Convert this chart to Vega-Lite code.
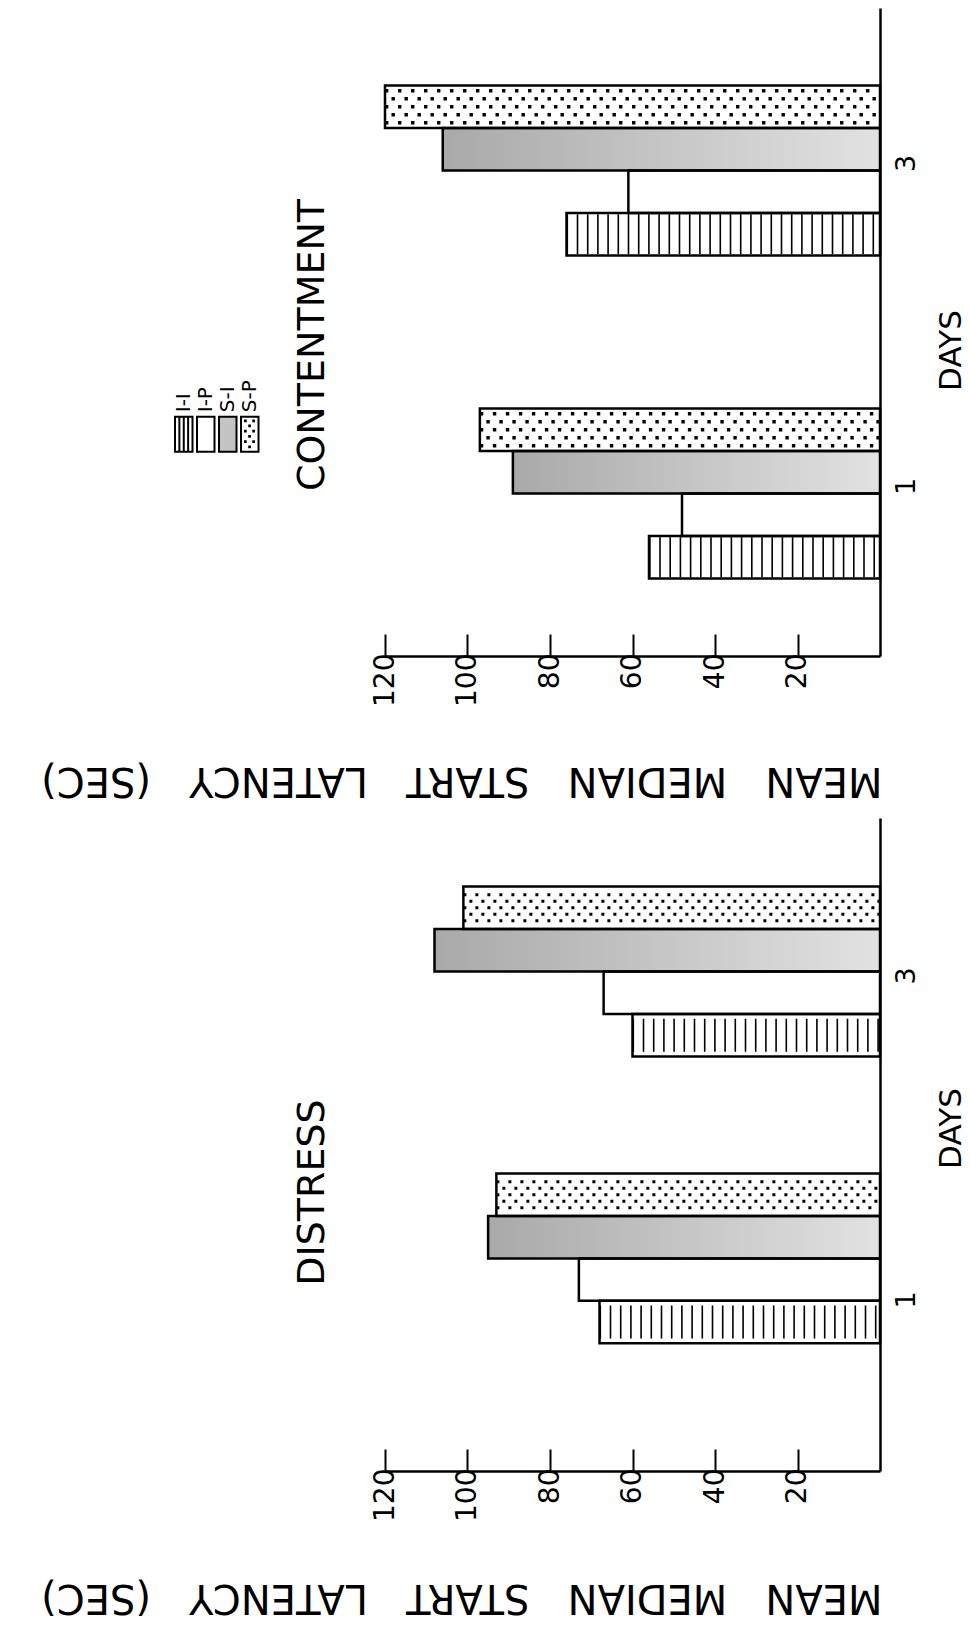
{
  "$schema": "https://vega.github.io/schema/vega-lite/v6.json",
  "autosize": {"type": "none"},
  "padding": {"left": 385, "top": 8, "right": 585, "bottom": 1630},
  "background": "white",
  "config": {
    "font": "DejaVu Sans",
    "view": {"stroke": null},
    "text": {"color": "black"}
  },
  "bounds": "flush",
  "spacing": 162,
  "data": {
    "values": [
      {"panel": "CONTENTMENT", "day": "1", "group": "I-I", "latency": 56},
      {"panel": "CONTENTMENT", "day": "1", "group": "I-P", "latency": 48},
      {"panel": "CONTENTMENT", "day": "1", "group": "S-I", "latency": 89},
      {"panel": "CONTENTMENT", "day": "1", "group": "S-P", "latency": 97},
      {"panel": "CONTENTMENT", "day": "3", "group": "I-I", "latency": 76},
      {"panel": "CONTENTMENT", "day": "3", "group": "I-P", "latency": 61},
      {"panel": "CONTENTMENT", "day": "3", "group": "S-I", "latency": 106},
      {"panel": "CONTENTMENT", "day": "3", "group": "S-P", "latency": 120},
      {"panel": "DISTRESS", "day": "1", "group": "I-I", "latency": 68},
      {"panel": "DISTRESS", "day": "1", "group": "I-P", "latency": 73},
      {"panel": "DISTRESS", "day": "1", "group": "S-I", "latency": 95},
      {"panel": "DISTRESS", "day": "1", "group": "S-P", "latency": 93},
      {"panel": "DISTRESS", "day": "3", "group": "I-I", "latency": 60},
      {"panel": "DISTRESS", "day": "3", "group": "I-P", "latency": 67},
      {"panel": "DISTRESS", "day": "3", "group": "S-I", "latency": 108},
      {"panel": "DISTRESS", "day": "3", "group": "S-P", "latency": 101}
    ]
  },
  "vconcat": [
    {
      "width": 495,
      "height": 648,
      "transform": [{"filter": "datum.panel === 'CONTENTMENT'"}],
      "layer": [
        {
          "mark": {"type": "bar", "stroke": null},
          "encoding": {
            "x": {
              "field": "latency", "type": "quantitative",
              "scale": {"domain": [0, 120], "reverse": true, "nice": false},
              "axis": {
                "values": [20, 40, 60, 80, 100, 120], "grid": false,
                "domain": true, "domainColor": "black", "domainWidth": 2.5,
                "ticks": true, "tickSize": -22, "tickWidth": 2, "tickColor": "black",
                "labelAngle": 270, "labelAlign": "right", "labelBaseline": "middle",
                "labelPadding": 19, "labelFontSize": 28, "labelColor": "black",
                "title": "MEAN \u00a0\u00a0MEDIAN \u00a0\u00a0START \u00a0\u00a0LATENCY \u00a0\u00a0(SEC)",
                "titleAngle": 180, "titleAlign": "left", "titleBaseline": "middle",
                "titleX": 497, "titleY": 123,
                "titleFontSize": 40, "titleFontWeight": "normal", "titleColor": "black"
              }
            },
            "y": {
              "field": "day", "type": "nominal",
              "scale": {"domain": ["3", "1"], "paddingInner": 0.474, "paddingOuter": 0.24, "align": 0.5},
              "axis": {
                "orient": "right", "domain": true, "domainColor": "black", "domainWidth": 2.5,
                "ticks": false, "labelAngle": 270, "labelAlign": "center", "labelBaseline": "top",
                "labelPadding": 13, "labelOffset": -7, "labelFontSize": 27, "labelColor": "black",
                "title": "DAYS", "titleAngle": 270, "titleAlign": "center", "titleBaseline": "middle",
                "titleX": 71, "titleY": 342,
                "titleFontSize": 31, "titleFontWeight": "normal", "titleColor": "black"
              }
            },
            "yOffset": {
              "field": "group", "type": "nominal",
              "scale": {"domain": ["S-P", "S-I", "I-P", "I-I"], "paddingInner": 0, "paddingOuter": 0}
            },
            "fill": {
              "field": "group", "type": "nominal",
              "scale": {"domain": ["I-I", "I-P", "S-I", "S-P"], "range": ["#ffffff", "#ffffff", "#c4c4c4", "#ffffff"]},
              "legend": {
                "orient": "none", "legendX": -210, "legendY": 426,
                "direction": "horizontal", "title": null,
                "symbolSize": 1225, "columnPadding": -10,
                "labelFontSize": 20, "labelColor": "black",
                "symbolStrokeColor": "black", "symbolStrokeWidth": 2,
                "encoding": {
                  "symbols": {
                    "shape": {"value": {"expr": "datum.value === 'I-I' ? 'M-0.5,-1H0.5V1H-0.5Z M-0.25,-1V1 M0,-1V1 M0.25,-1V1' : datum.value === 'S-P' ? 'M-0.5,-1H0.5V1H-0.5Z M-0.27,-0.78h0.04v0.04h-0.04Z M0.2,-0.78h0.04v0.04h-0.04Z M-0.03,-0.5h0.04v0.04h-0.04Z M-0.27,-0.2h0.04v0.04h-0.04Z M0.2,-0.2h0.04v0.04h-0.04Z M-0.03,0.1h0.04v0.04h-0.04Z M-0.27,0.4h0.04v0.04h-0.04Z M0.2,0.4h0.04v0.04h-0.04Z M-0.03,0.7h0.04v0.04h-0.04Z' : 'M-0.5,-1H0.5V1H-0.5Z'"}},
                    "stroke": {"value": "#000000"},
                    "strokeWidth": {"value": 2},
                    "opacity": {"value": 1},
                    "x": {"value": 8.75},
                    "y": {"value": 0}
                  },
                  "labels": {
                    "angle": {"value": 270},
                    "align": {"value": "left"},
                    "baseline": {"value": "middle"},
                    "x": {"value": 8.75},
                    "y": {"value": -22}
                  }
                }
              }
            }
          }
        },
        {
          "transform": [{"filter": "datum.group === 'S-I'"}],
          "mark": {
            "type": "bar",
            "fill": {"gradient": "linear", "x1": 0, "x2": 1, "y1": 0, "y2": 0,
                     "stops": [{"offset": 0, "color": "#a9a9a9"}, {"offset": 1, "color": "#e2e2e2"}]}
          },
          "encoding": {
            "x": {"field": "latency", "type": "quantitative"},
            "y": {"field": "day", "type": "nominal"},
            "yOffset": {"field": "group", "type": "nominal"}
          }
        },
        {
          "transform": [{"filter": "datum.group === 'I-I'"}],
          "mark": {"type": "rule", "color": "black", "strokeWidth": 40, "strokeDash": [1.6, 8.6]},
          "encoding": {
            "x": {"field": "latency", "type": "quantitative"},
            "x2": {"datum": 0},
            "y": {"field": "day", "type": "nominal"},
            "yOffset": {"field": "group", "type": "nominal"}
          }
        },
        {
          "transform": [{"filter": "datum.group === 'S-P'"}],
          "mark": {"type": "rule", "color": "black", "strokeWidth": 35.4, "strokeDash": [3.4, 9.6]},
          "encoding": {
            "x": {"field": "latency", "type": "quantitative"},
            "x2": {"datum": 0},
            "y": {"field": "day", "type": "nominal"},
            "yOffset": {"field": "group", "type": "nominal"}
          }
        },
        {
          "transform": [{"filter": "datum.group === 'S-P'"}],
          "mark": {"type": "rule", "color": "white", "strokeWidth": 28.6},
          "encoding": {
            "x": {"field": "latency", "type": "quantitative"},
            "x2": {"datum": 0},
            "y": {"field": "day", "type": "nominal"},
            "yOffset": {"field": "group", "type": "nominal"}
          }
        },
        {
          "transform": [{"filter": "datum.group === 'S-P'"}],
          "mark": {"type": "rule", "color": "black", "strokeWidth": 19.4, "strokeDash": [3.4, 9.6], "strokeDashOffset": 6.5},
          "encoding": {
            "x": {"field": "latency", "type": "quantitative"},
            "x2": {"datum": 0},
            "y": {"field": "day", "type": "nominal"},
            "yOffset": {"field": "group", "type": "nominal"}
          }
        },
        {
          "transform": [{"filter": "datum.group === 'S-P'"}],
          "mark": {"type": "rule", "color": "white", "strokeWidth": 12.6},
          "encoding": {
            "x": {"field": "latency", "type": "quantitative"},
            "x2": {"datum": 0},
            "y": {"field": "day", "type": "nominal"},
            "yOffset": {"field": "group", "type": "nominal"}
          }
        },
        {
          "transform": [{"filter": "datum.group === 'S-P'"}],
          "mark": {"type": "rule", "color": "black", "strokeWidth": 3.4, "strokeDash": [3.4, 9.6]},
          "encoding": {
            "x": {"field": "latency", "type": "quantitative"},
            "x2": {"datum": 0},
            "y": {"field": "day", "type": "nominal"},
            "yOffset": {"field": "group", "type": "nominal"}
          }
        },
        {
          "mark": {"type": "bar", "fill": "transparent", "stroke": "black", "strokeWidth": 2.5},
          "encoding": {
            "x": {"field": "latency", "type": "quantitative"},
            "y": {"field": "day", "type": "nominal"},
            "yOffset": {"field": "group", "type": "nominal"}
          }
        },
        {
          "transform": [{"aggregate": [], "groupby": ["panel"]}],
          "mark": {"type": "text", "angle": 270, "align": "center", "baseline": "middle", "fontSize": 38, "dx": -13, "dy": -72, "color": "black"},
          "encoding": {
            "x": {"datum": 120, "type": "quantitative"},
            "text": {"field": "panel"}
          }
        }
      ]
    },
    {
      "width": 495,
      "height": 653,
      "transform": [{"filter": "datum.panel === 'DISTRESS'"}],
      "layer": [
        {
          "mark": {"type": "bar", "fill": "#ffffff", "stroke": null},
          "encoding": {
            "x": {
              "field": "latency", "type": "quantitative",
              "scale": {"domain": [0, 120], "reverse": true, "nice": false},
              "axis": {
                "values": [20, 40, 60, 80, 100, 120], "grid": false,
                "domain": true, "domainColor": "black", "domainWidth": 2.5,
                "ticks": true, "tickSize": -22, "tickWidth": 2, "tickColor": "black",
                "labelAngle": 270, "labelAlign": "right", "labelBaseline": "middle",
                "labelPadding": 19, "labelFontSize": 28, "labelColor": "black",
                "title": "MEAN \u00a0\u00a0MEDIAN \u00a0\u00a0START \u00a0\u00a0LATENCY \u00a0\u00a0(SEC)",
                "titleAngle": 180, "titleAlign": "left", "titleBaseline": "middle",
                "titleX": 497, "titleY": 125,
                "titleFontSize": 40, "titleFontWeight": "normal", "titleColor": "black"
              }
            },
            "y": {
              "field": "day", "type": "nominal",
              "scale": {"domain": ["3", "1"], "paddingInner": 0.502, "paddingOuter": 0.389, "align": 0.307},
              "axis": {
                "orient": "right", "domain": true, "domainColor": "black", "domainWidth": 2.5,
                "ticks": false, "labelAngle": 270, "labelAlign": "center", "labelBaseline": "top",
                "labelPadding": 13,
                "labelOffset": {"condition": {"test": "datum.value === '1'", "value": 55}, "value": 18},
                "labelFontSize": 27, "labelColor": "black",
                "title": "DAYS", "titleAngle": 270, "titleAlign": "center", "titleBaseline": "middle",
                "titleX": 71, "titleY": 310,
                "titleFontSize": 31, "titleFontWeight": "normal", "titleColor": "black"
              }
            },
            "yOffset": {
              "field": "group", "type": "nominal",
              "scale": {"domain": ["S-P", "S-I", "I-P", "I-I"], "paddingInner": 0, "paddingOuter": 0}
            }
          }
        },
        {
          "transform": [{"filter": "datum.group === 'S-I'"}],
          "mark": {
            "type": "bar",
            "fill": {"gradient": "linear", "x1": 0, "x2": 1, "y1": 0, "y2": 0,
                     "stops": [{"offset": 0, "color": "#a9a9a9"}, {"offset": 1, "color": "#e2e2e2"}]}
          },
          "encoding": {
            "x": {"field": "latency", "type": "quantitative"},
            "y": {"field": "day", "type": "nominal"},
            "yOffset": {"field": "group", "type": "nominal"}
          }
        },
        {
          "transform": [{"filter": "datum.group === 'I-I'"}],
          "mark": {"type": "rule", "color": "black", "strokeWidth": 33, "strokeDash": [1.6, 8.6]},
          "encoding": {
            "x": {"field": "latency", "type": "quantitative"},
            "x2": {"datum": 0},
            "y": {"field": "day", "type": "nominal"},
            "yOffset": {"field": "group", "type": "nominal"}
          }
        },
        {
          "transform": [{"filter": "datum.group === 'S-P'"}],
          "mark": {"type": "rule", "color": "black", "strokeWidth": 29, "strokeDash": [3, 9]},
          "encoding": {
            "x": {"field": "latency", "type": "quantitative"},
            "x2": {"datum": 0},
            "y": {"field": "day", "type": "nominal"},
            "yOffset": {"field": "group", "type": "nominal"}
          }
        },
        {
          "transform": [{"filter": "datum.group === 'S-P'"}],
          "mark": {"type": "rule", "color": "white", "strokeWidth": 23},
          "encoding": {
            "x": {"field": "latency", "type": "quantitative"},
            "x2": {"datum": 0},
            "y": {"field": "day", "type": "nominal"},
            "yOffset": {"field": "group", "type": "nominal"}
          }
        },
        {
          "transform": [{"filter": "datum.group === 'S-P'"}],
          "mark": {"type": "rule", "color": "black", "strokeWidth": 16, "strokeDash": [3, 9], "strokeDashOffset": 6},
          "encoding": {
            "x": {"field": "latency", "type": "quantitative"},
            "x2": {"datum": 0},
            "y": {"field": "day", "type": "nominal"},
            "yOffset": {"field": "group", "type": "nominal"}
          }
        },
        {
          "transform": [{"filter": "datum.group === 'S-P'"}],
          "mark": {"type": "rule", "color": "white", "strokeWidth": 10},
          "encoding": {
            "x": {"field": "latency", "type": "quantitative"},
            "x2": {"datum": 0},
            "y": {"field": "day", "type": "nominal"},
            "yOffset": {"field": "group", "type": "nominal"}
          }
        },
        {
          "transform": [{"filter": "datum.group === 'S-P'"}],
          "mark": {"type": "rule", "color": "black", "strokeWidth": 3, "strokeDash": [3, 9]},
          "encoding": {
            "x": {"field": "latency", "type": "quantitative"},
            "x2": {"datum": 0},
            "y": {"field": "day", "type": "nominal"},
            "yOffset": {"field": "group", "type": "nominal"}
          }
        },
        {
          "mark": {"type": "bar", "fill": "transparent", "stroke": "black", "strokeWidth": 2.5},
          "encoding": {
            "x": {"field": "latency", "type": "quantitative"},
            "y": {"field": "day", "type": "nominal"},
            "yOffset": {"field": "group", "type": "nominal"}
          }
        },
        {
          "transform": [{"aggregate": [], "groupby": ["panel"]}],
          "mark": {"type": "text", "angle": 270, "align": "center", "baseline": "middle", "fontSize": 38, "dx": -48, "dy": -72, "color": "black"},
          "encoding": {
            "x": {"datum": 120, "type": "quantitative"},
            "text": {"field": "panel"}
          }
        }
      ]
    }
  ]
}
